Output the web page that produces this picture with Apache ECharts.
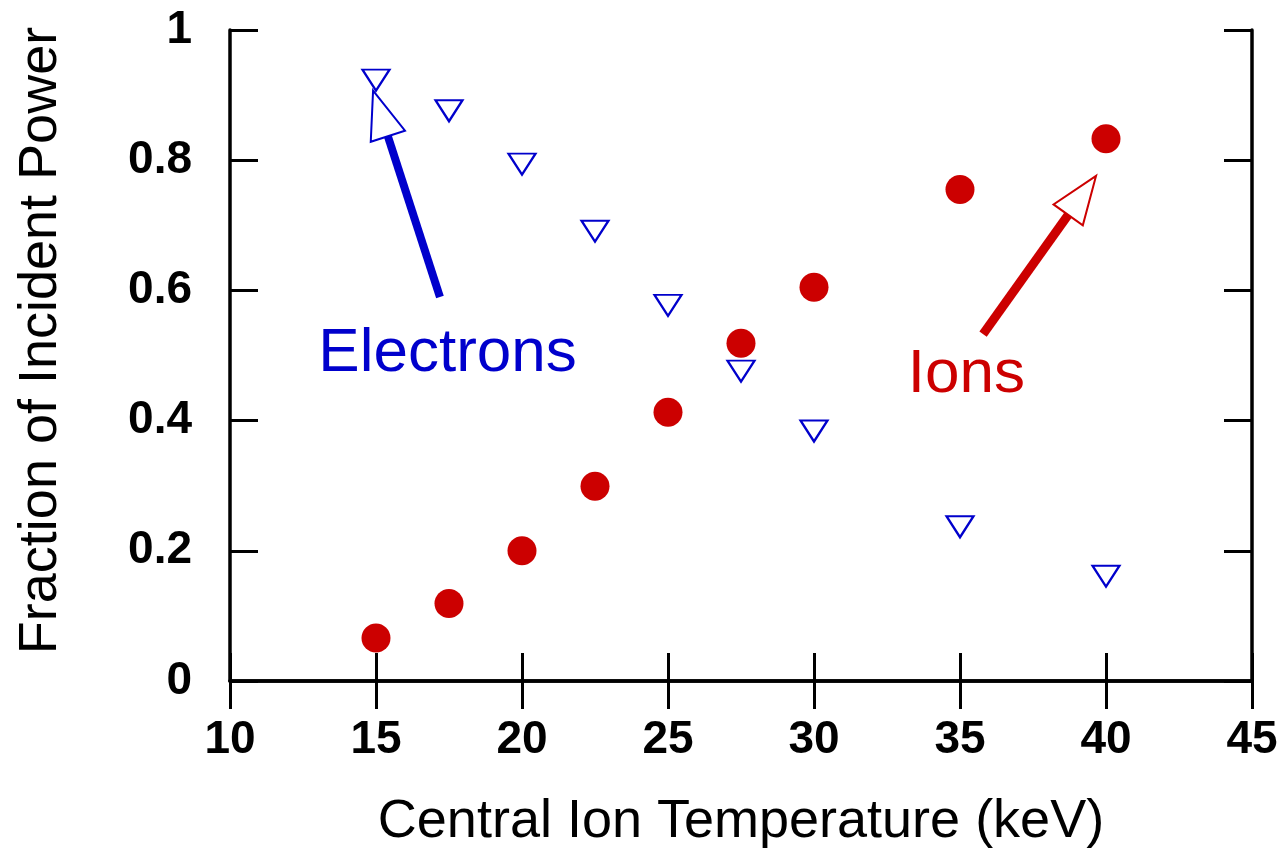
<!DOCTYPE html>
<html>
<head>
<meta charset="utf-8">
<title>Fraction of Incident Power</title>
<script src="https://cdn.jsdelivr.net/npm/echarts@6/dist/echarts.min.js"></script>
<style>
  html, body { margin: 0; padding: 0; background: #fff; }
  #chart { width: 1283px; height: 854px; }
</style>
</head>
<body>
<div id="chart"></div>
<script>
// central ion temperature (keV)
var tempIons = [15, 17.5, 20, 22.5, 25, 27.5, 30, 35, 40];
var fracIons = [0.066, 0.119, 0.200, 0.299, 0.413, 0.519, 0.605, 0.755, 0.833];
var tempElectrons = [15, 17.5, 20, 22.5, 25, 27.5, 30, 35, 40];
var fracElectrons = [0.923, 0.876, 0.794, 0.691, 0.577, 0.476, 0.384, 0.237, 0.161];

// annotations: arrow [tailX, tailY, tipX, tipY] and label positions (data space)
var arrowElectrons = [17.19, 0.590, 14.90, 0.907];
var arrowIons = [35.79, 0.533, 39.66, 0.776];
var labelElectrons = [17.45, 0.502, 'Electrons'];
var labelIons = [35.22, 0.470, 'Ions'];

var BLUE = '#0000cc', RED = '#cc0000';
var FONT = '"Liberation Sans", Arial, Helvetica, sans-serif';

function pairs(xs, ys) {
    return xs.map(function (x, i) { return [x, ys[i]]; });
}

function renderArrow(color, shaftW) {
    return function (params, api) {
        var p0 = api.coord([api.value(0), api.value(1)]);
        var p1 = api.coord([api.value(2), api.value(3)]);
        var dx = p1[0] - p0[0], dy = p1[1] - p0[1];
        var len = Math.sqrt(dx * dx + dy * dy);
        var ux = dx / len, uy = dy / len;
        var headLen = 48, headHalf = 18;
        var bx = p1[0] - ux * headLen, by = p1[1] - uy * headLen;
        var nx = -uy, ny = ux;
        return {
            type: 'group',
            children: [{
                type: 'line',
                shape: { x1: p0[0], y1: p0[1], x2: bx + ux * 4, y2: by + uy * 4 },
                style: { stroke: color, lineWidth: shaftW, lineCap: 'butt' }
            }, {
                type: 'polygon',
                shape: { points: [
                    [p1[0], p1[1]],
                    [bx + nx * headHalf, by + ny * headHalf],
                    [bx - nx * headHalf, by - ny * headHalf]
                ] },
                style: { fill: '#fff', stroke: color, lineWidth: 2, lineJoin: 'miter' }
            }]
        };
    };
}

function renderLabel(color) {
    return function (params, api) {
        var p = api.coord([api.value(0), api.value(1)]);
        return {
            type: 'text',
            x: p[0], y: p[1],
            style: {
                text: api.value(2),
                fill: color,
                font: 'normal 62px ' + FONT,
                align: 'center',
                verticalAlign: 'middle'
            }
        };
    };
}

var axisCommon = {
    axisLine: { lineStyle: { color: '#000', width: 3.5 } },
    axisTick: { inside: true, length: 28, lineStyle: { color: '#000', width: 3 } },
    splitLine: { show: false }
};

var chart = echarts.init(document.getElementById('chart'));
chart.setOption({
    backgroundColor: '#fff',
    animation: false,
    grid: { left: 230, right: 31, top: 30, bottom: 171 },
    xAxis: [
        Object.assign({
            type: 'value', min: 10, max: 45, interval: 5, position: 'bottom',
            name: 'Central Ion Temperature (keV)', nameLocation: 'middle', nameGap: 114,
            nameTextStyle: { fontFamily: FONT, fontSize: 54, color: '#000' },
            axisLabel: { margin: 36, fontFamily: FONT, fontSize: 46, fontWeight: 'bold', color: '#000' }
        }, axisCommon),
        Object.assign({
            type: 'value', min: 10, max: 45, interval: 5, position: 'top',
            axisLabel: { show: false }
        }, axisCommon)
    ],
    yAxis: [
        Object.assign({
            type: 'value', min: 0, max: 1, interval: 0.2, position: 'left',
            name: 'Fraction of Incident Power', nameLocation: 'middle', nameGap: 162,
            nameTextStyle: { fontFamily: FONT, fontSize: 54, color: '#000', padding: [0, 0, 0, 30] },
            axisLabel: { margin: 38, fontFamily: FONT, fontSize: 46, fontWeight: 'bold', color: '#000' }
        }, axisCommon),
        Object.assign({
            type: 'value', min: 0, max: 1, interval: 0.2, position: 'right',
            axisLabel: { show: false }
        }, axisCommon)
    ],
    series: [{
        name: 'Electrons',
        type: 'scatter',
        data: pairs(tempElectrons, fracElectrons),
        symbol: 'triangle',
        symbolRotate: 180,
        symbolSize: [27, 21],
        itemStyle: { color: '#fff', borderColor: BLUE, borderWidth: 2.2, opacity: 1 },
        z: 3
    }, {
        name: 'Ions',
        type: 'scatter',
        data: pairs(tempIons, fracIons),
        symbol: 'circle',
        symbolSize: 29,
        itemStyle: { color: RED, opacity: 1 },
        z: 4
    }, {
        type: 'custom',
        renderItem: renderArrow(BLUE, 8),
        data: [arrowElectrons],
        encode: { x: [0, 2], y: [1, 3] },
        clip: false, silent: true, z: 5
    }, {
        type: 'custom',
        renderItem: renderArrow(RED, 9),
        data: [arrowIons],
        encode: { x: [0, 2], y: [1, 3] },
        clip: false, silent: true, z: 5
    }, {
        type: 'custom',
        renderItem: renderLabel(BLUE),
        data: [labelElectrons],
        dimensions: ['x', 'y', { name: 't', type: 'ordinal' }],
        encode: { x: 0, y: 1 },
        silent: true, z: 5
    }, {
        type: 'custom',
        renderItem: renderLabel(RED),
        data: [labelIons],
        dimensions: ['x', 'y', { name: 't', type: 'ordinal' }],
        encode: { x: 0, y: 1 },
        silent: true, z: 5
    }]
});
</script>
</body>
</html>
